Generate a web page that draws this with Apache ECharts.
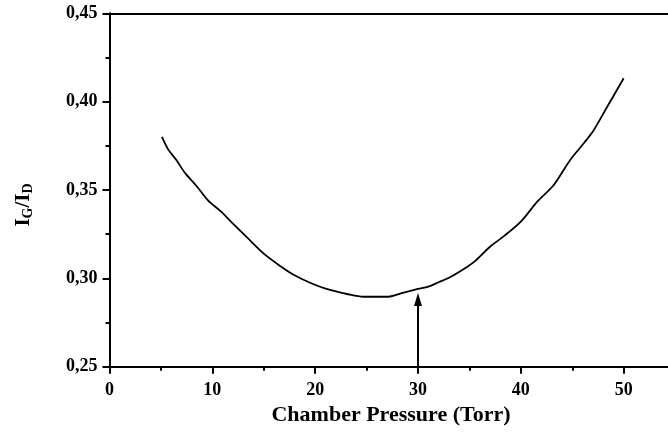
<!DOCTYPE html>
<html>
<head>
<meta charset="utf-8">
<script src="https://cdn.jsdelivr.net/npm/echarts@6/dist/echarts.min.js"></script>
<style>html,body{margin:0;padding:0;background:#fff;overflow:hidden;}#c{width:668px;height:440px;}</style>
</head>
<body>
<div id="c"></div>
<script>
var pressure = [5.1, 5.7, 6.5, 7.3, 8.5, 9.6, 10.8, 12.0, 13.4, 15.0, 16.6, 17.9, 19.5, 21.1, 23.2, 24.7, 27.1, 28.6, 30.0, 31.0, 32.0, 33.1, 34.8, 35.6, 37.0, 38.3, 40.0, 41.6, 43.2, 44.8, 46.2, 47.1, 48.4, 50.0];
var ratio = [0.380, 0.373, 0.367, 0.360, 0.352, 0.344, 0.338, 0.331, 0.323, 0.314, 0.307, 0.302, 0.2975, 0.294, 0.291, 0.2896, 0.2896, 0.2919, 0.294, 0.2953, 0.2978, 0.3006, 0.3066, 0.3100, 0.3179, 0.3236, 0.3321, 0.3434, 0.3528, 0.3670, 0.3770, 0.3840, 0.3971, 0.4132];
var arrowX = 30;
var arrowFrom = 0.25;
var arrowTo = 0.288;
var xTitle = 'Chamber Pressure (Torr)';

var FONT = '"Liberation Serif", "Times New Roman", serif';
var chart = echarts.init(document.getElementById('c'));
var data = pressure.map(function (p, i) { return [p, ratio[i]]; });
chart.setOption({
  animation: false,
  backgroundColor: '#fff',
  grid: { left: 109.5, top: 13.3, width: 617, height: 353.4, show: false, outerBoundsMode: 'none', containLabel: false },
  xAxis: [{
    type: 'value', min: 0, max: 60, interval: 10, position: 'bottom',
    axisLine: { show: true, lineStyle: { color: '#000', width: 2 } },
    axisTick: { show: true, length: 7, lineStyle: { color: '#000', width: 2 } },
    minorTick: { show: true, splitNumber: 2, length: 4, lineStyle: { color: '#000', width: 2 } },
    splitLine: { show: false },
    axisLabel: { color: '#000', fontFamily: FONT, fontWeight: 'bold', fontSize: 18, margin: 15 }
  }, {
    type: 'value', min: 0, max: 60, position: 'top',
    axisLine: { show: true, onZero: false, lineStyle: { color: '#000', width: 2 } },
    axisTick: { show: false }, axisLabel: { show: false }, splitLine: { show: false }
  }],
  yAxis: {
    type: 'value', min: 0.25, max: 0.45, interval: 0.05,
    axisLine: { show: true, lineStyle: { color: '#000', width: 2 } },
    axisTick: { show: true, length: 7, lineStyle: { color: '#000', width: 2 } },
    minorTick: { show: true, splitNumber: 2, length: 4, lineStyle: { color: '#000', width: 2 } },
    splitLine: { show: false },
    axisLabel: {
      color: '#000', fontFamily: FONT, fontWeight: 'bold', fontSize: 18, margin: 12,
      formatter: function (v) { return v.toFixed(2).replace('.', ','); }
    }
  },
  graphic: [{
    type: 'text', x: 391, y: 404,
    style: { text: xTitle, fill: '#000', font: 'bold 22px ' + FONT, align: 'center', verticalAlign: 'top' }
  }, {
    type: 'text', x: 24, y: 205, rotation: Math.PI / 2,
    style: {
      text: '{b|I}{s|G}{b|/I}{s|D}', fill: '#000', align: 'center', verticalAlign: 'middle',
      rich: {
        b: { font: 'bold 21px ' + FONT, fill: '#000' },
        s: { font: 'bold 14px ' + FONT, fill: '#000', verticalAlign: 'bottom', padding: [8, 0, 0, 0] }
      }
    }
  }],
  series: [{
    type: 'line', data: data, showSymbol: false, smooth: 0.3,
    lineStyle: { color: '#000', width: 1.8 },
    markLine: {
      silent: true, animation: false,
      lineStyle: { color: '#000', width: 2, type: 'solid' },
      label: { show: false },
      symbol: ['none', 'triangle'], symbolSize: [8, 13],
      data: [[{ coord: [arrowX, arrowFrom] }, { coord: [arrowX, arrowTo] }]]
    }
  }]
});
</script>
</body>
</html>
